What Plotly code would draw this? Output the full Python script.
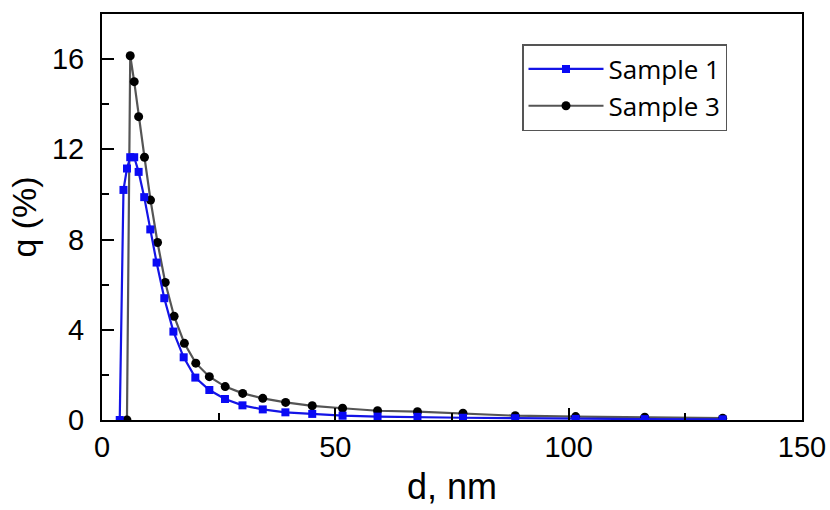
import plotly.graph_objects as go

# Sample 1 (blue squares)
d_s1 = [3.8, 4.6, 5.35, 6.05, 6.9, 7.85, 9.05, 10.35, 11.7, 13.35, 15.3, 17.5, 20.0,
        23.0, 26.35, 30.1, 34.45, 39.3, 45.05, 51.55, 59.05, 67.6, 77.35, 88.55,
        101.5, 116.3, 133.0]
q_s1 = [0, 10.2, 11.15, 11.65, 11.65, 11.0, 9.88, 8.45, 6.98, 5.4, 3.92, 2.78, 1.88,
        1.33, 0.93, 0.65, 0.47, 0.34, 0.27, 0.19, 0.15, 0.14, 0.10, 0.08,
        0.05, 0.04, 0.03]

# Sample 3 (black circles)
d_s3 = [5.35, 6.05, 6.9, 7.85, 9.1, 10.4, 11.9, 13.55, 15.45, 17.65, 20.1, 23.0,
        26.4, 30.15, 34.45, 39.35, 45.05, 51.55, 59.05, 67.6, 77.35, 88.55,
        101.5, 116.3, 133.0]
q_s3 = [0, 16.15, 15.0, 13.45, 11.65, 9.75, 7.87, 6.1, 4.6, 3.4, 2.52, 1.92,
        1.48, 1.18, 0.96, 0.78, 0.63, 0.52, 0.41, 0.37, 0.30, 0.19,
        0.15, 0.12, 0.08]

x_ticks = [0, 50, 100, 150]
y_ticks = [0, 4, 8, 12, 16]

fig = go.Figure()
fig.add_trace(go.Scatter(
    x=d_s3, y=q_s3, name="Sample 3", mode="lines+markers", legendrank=2,
    line=dict(color="#555555", width=2.2),
    marker=dict(symbol="circle", size=9, color="#000000"),
))
fig.add_trace(go.Scatter(
    x=d_s1, y=q_s1, name="Sample 1", mode="lines+markers", legendrank=1,
    line=dict(color="#1414e6", width=2.2),
    marker=dict(symbol="square", size=8, color="#0a0af5"),
))

axis_common = dict(
    showline=True, linecolor="black", linewidth=2, mirror=True,
    showgrid=False, zeroline=False, automargin=False,
    ticks="inside", ticklen=12, tickwidth=2, tickcolor="black",
    tickfont=dict(family="Liberation Sans, Arial", size=29, color="black"),
)

fig.update_xaxes(
    range=[0, 150], tickvals=x_ticks, ticktext=[str(v) for v in x_ticks],
    minor=dict(ticks="inside", ticklen=7, tickwidth=2, tickcolor="black", dtick=25, tick0=0, showgrid=False),
    title=dict(text="d, nm", font=dict(family="Liberation Sans, Arial", size=36, color="black"), standoff=12),
    ticklabelstandoff=0,
    **axis_common,
)
fig.update_yaxes(
    range=[0, 18], tickvals=y_ticks, ticktext=[str(v) for v in y_ticks],
    minor=dict(ticks="inside", ticklen=7, tickwidth=2, tickcolor="black", dtick=2, tick0=0, showgrid=False),
    title=dict(text="q (%)", font=dict(family="Liberation Sans, Arial", size=34, color="black"), standoff=5),
    ticklabelstandoff=10,
    **axis_common,
)

fig.update_layout(
    width=830, height=510,
    margin=dict(l=102, r=28, t=14, b=90),
    paper_bgcolor="white", plot_bgcolor="white",
    showlegend=True,
    legend=dict(
        x=0.6, y=0.926, xanchor="left", yanchor="top",
        traceorder="normal",
        bgcolor="white", bordercolor="#555555", borderwidth=1.5,
        font=dict(family="Open Sans, Noto Sans", size=26, color="black"),
        itemwidth=75,
        entrywidth=228, entrywidthmode="pixels",
    ),
)

fig.write_html("out.html", config={"displayModeBar": False},
               post_script="document.body.style.margin='0px';")
